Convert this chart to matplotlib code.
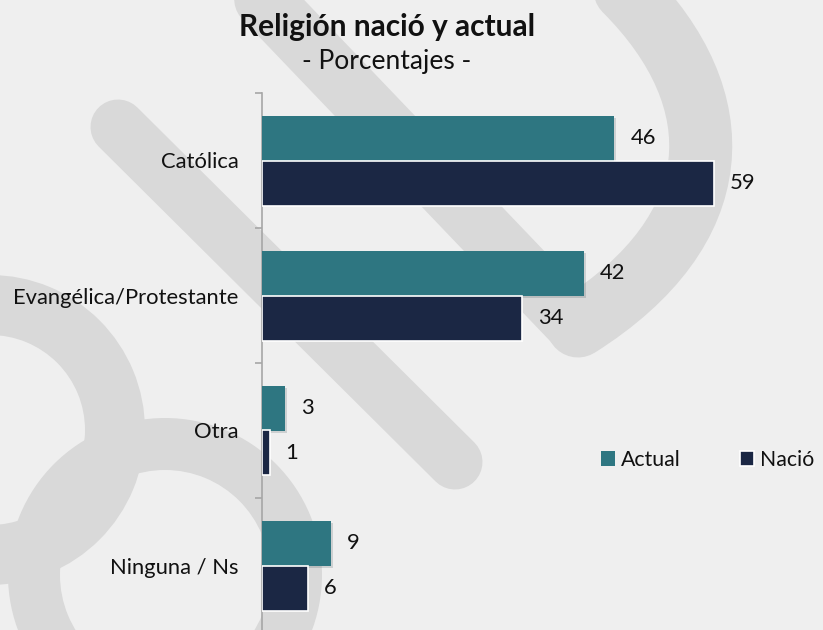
import numpy as np
import matplotlib
matplotlib.use("Agg")
import matplotlib.pyplot as plt
from matplotlib.patches import Wedge, PathPatch, Patch
from matplotlib.path import Path
from matplotlib.lines import Line2D
import matplotlib.patheffects as pe

plt.rcParams['font.family'] = ['Lato', 'DejaVu Sans']

categories = ["Católica", "Evangélica/Protestante", "Otra", "Ninguna / Ns"]
actual = [46, 42, 3, 9]
nacio = [59, 34, 1, 6]
series_names = ["Actual", "Nació"]
title = "Religión nació y actual"
subtitle = "- Porcentajes -"

TEAL = "#2E7681"
NAVY = "#1B2744"
BG = "#EFEFEF"
WM = "#D9D9D9"
TXT = "#111111"

W, H = 823, 630
fig = plt.figure(figsize=(W / 100, H / 100), dpi=100, facecolor=BG)

# ---- watermark background (pixel coordinates) ----
bg = fig.add_axes([0, 0, 1, 1], zorder=0)
bg.set_xlim(0, W)
bg.set_ylim(H, 0)
bg.axis("off")
px = 0.72  # points per pixel

# rings (bottom-left)
bg.add_patch(Wedge((-10, 430), 155, 0, 360, width=60, color=WM, lw=0))
bg.add_patch(Wedge((165, 575), 157, 0, 360, width=52, color=WM, lw=0))
# diagonal bands
bg.add_line(Line2D([118, 455], [127, 462], lw=55 * px, color=WM, solid_capstyle="round"))
bg.add_line(Line2D([245, 572], [-20, 322], lw=58 * px, color=WM, solid_capstyle="round"))
# right arc
arc = Path([(625, -10), (735, 100), (730, 230), (578, 326)],
           [Path.MOVETO, Path.CURVE4, Path.CURVE4, Path.CURVE4])
bg.add_patch(PathPatch(arc, fill=False, lw=63 * px, edgecolor=WM, capstyle="round"))

# ---- main chart ----
left = 262 / W
bottom_px = 633
ax = fig.add_axes([left, 1 - bottom_px / H, 1 - left, (bottom_px - 93) / H], zorder=1)
ax.set_facecolor("none")

y = np.arange(len(categories))
h = 1 / 3
shadow = [pe.SimplePatchShadow(offset=(1.5, -1.5), alpha=0.15), pe.Normal()]
b1 = ax.barh(y - h / 2, actual, height=h, color=TEAL, lw=0, zorder=3)
for r in b1:
    r.set_path_effects(shadow)
b2 = ax.barh(y + h / 2, nacio, height=h, color=NAVY, edgecolor="white", lw=1.2, zorder=3)

fs = 15.8
for bars, vals in ((b1, actual), (b2, nacio)):
    for r, v in zip(bars, vals):
        ax.annotate(str(v), (v, r.get_y() + r.get_height() / 2),
                    xytext=(11.5, 0), textcoords="offset points",
                    ha="left", va="center", fontsize=fs, color=TXT)

ax.set_xlim(0, (W - 262) / 7.66)
ax.set_ylim(len(categories) - 0.5, -0.5)
for s in ("top", "right", "bottom"):
    ax.spines[s].set_visible(False)
ax.spines["left"].set_color("#A6A6A6")
ax.spines["left"].set_linewidth(1.2)
ax.set_xticks([])
ax.set_yticks(y)
ax.set_yticklabels(categories, fontsize=fs, color=TXT)
ax.tick_params(axis="y", which="major", length=0, pad=17)
ax.set_yticks(np.arange(-0.5, len(categories), 1), minor=True)
ax.tick_params(axis="y", which="minor", length=5, width=1.2, color="#A6A6A6")

handles = [Patch(facecolor=TEAL, edgecolor=TEAL, lw=0),
           Patch(facecolor=NAVY, edgecolor="white", lw=1.2)]
fig.legend(handles, series_names, loc="center left",
           bbox_to_anchor=(601 / W, 1 - 460 / H), ncol=2, frameon=False,
           fontsize=15.3, handlelength=0.65, handleheight=0.65,
           handletextpad=0.28, columnspacing=2.8, borderpad=0, borderaxespad=0,
           labelcolor=TXT)

fig.text(387 / W, 1 - 27 / H, title, ha="center", va="center",
         fontsize=21.5, fontweight="bold", color=TXT)
fig.text(387 / W, 1 - 62 / H, subtitle, ha="center", va="center",
         fontsize=19, color=TXT)

fig.savefig("out.png", dpi=100, facecolor=BG)
